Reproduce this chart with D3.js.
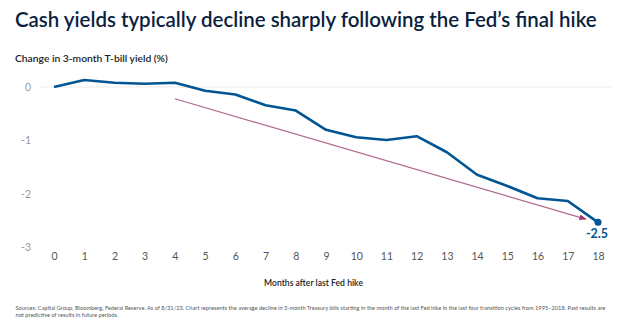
<!DOCTYPE html>
<html>
<head>
<meta charset="utf-8">
<script src="https://cdn.jsdelivr.net/npm/d3@7"></script>
<style>
  body { margin: 0; background: #fff; }
  svg { display: block; font-family: Lato, "Open Sans", sans-serif; }
</style>
</head>
<body>
<svg width="624" height="325"></svg>
<script>
const months = [0, 1, 2, 3, 4, 5, 6, 7, 8, 9, 10, 11, 12, 13, 14, 15, 16, 17, 18];
const yieldChange = [0, 0.13, 0.08, 0.06, 0.08, -0.07, -0.14, -0.34, -0.44, -0.80,
  -0.94, -0.99, -0.92, -1.22, -1.64, -1.85, -2.08, -2.13, -2.53];
const yTicks = [0, -1, -2, -3];
// trend arrow: start and end points (month, change)
const arrowFrom = [4, -0.22];
const arrowTo = [17.6, -2.47];

const svg = d3.select("svg");

const x = d3.scaleLinear().domain([0, 18]).range([54, 598]);
const y = d3.scaleLinear().domain([0, -3]).range([87, 247.5]);

// plain hyphen instead of unicode minus
const fmt = f => d => d3.format(f)(d).replace("\u2212", "-");

// scale a text's font size so it spans roughly the given width
function fit(sel, w) {
  const fs = +sel.attr("font-size");
  const len = sel.node().getComputedTextLength();
  sel.attr("font-size", fs * w / len);
}

// title
svg.append("text")
  .attr("x", 15).attr("y", 27)
  .attr("font-size", 20.5).attr("font-weight", 600)
  .attr("fill", "#0b1f3f")
  .text("Cash yields typically decline sharply following the Fed\u2019s final hike")
  .call(fit, 582);

svg.append("text")
  .attr("x", 15).attr("y", 62)
  .attr("font-size", 11).attr("font-weight", 600)
  .attr("fill", "#222")
  .text("Change in 3-month T-bill yield (%)")
  .call(fit, 153);

// zero line
svg.append("line")
  .attr("x1", 39).attr("x2", 611)
  .attr("y1", y(0)).attr("y2", y(0))
  .attr("stroke", "#ececec").attr("stroke-width", 1);

// y axis labels
svg.append("g")
  .attr("transform", "translate(31,0)")
  .call(d3.axisLeft(y).tickValues(yTicks).tickSize(0).tickPadding(0).tickFormat(fmt("d")))
  .call(g => g.select(".domain").remove())
  .call(g => g.selectAll("text")
    .attr("font-family", "Lato, sans-serif").attr("font-size", 10.5).attr("fill", "#999"));

// x axis labels
svg.append("g")
  .attr("transform", "translate(0,253)")
  .call(d3.axisBottom(x).tickValues(months).tickSize(0).tickPadding(0).tickFormat(fmt("d")))
  .call(g => g.select(".domain").remove())
  .call(g => g.selectAll("text")
    .attr("font-family", "Lato, sans-serif").attr("font-size", 10.5).attr("fill", "#555"));

svg.append("text")
  .attr("x", 313.5).attr("y", 286)
  .attr("text-anchor", "middle")
  .attr("font-size", 11).attr("font-weight", 600)
  .attr("fill", "#222")
  .text("Months after last Fed hike")
  .call(fit, 99);

// arrow
svg.append("defs").append("marker")
  .attr("id", "head")
  .attr("viewBox", "0 0 10 10")
  .attr("refX", 9).attr("refY", 5)
  .attr("markerWidth", 6).attr("markerHeight", 6)
  .attr("orient", "auto")
  .append("path")
  .attr("d", "M0,1 L10,5 L0,9 Z")
  .attr("fill", "#a3306e");

svg.append("line")
  .attr("x1", x(arrowFrom[0])).attr("y1", y(arrowFrom[1]))
  .attr("x2", x(arrowTo[0])).attr("y2", y(arrowTo[1]))
  .attr("stroke", "#b0668f").attr("stroke-width", 1.2)
  .attr("marker-end", "url(#head)");

// main line
const line = d3.line()
  .x((d, i) => x(months[i]))
  .y(d => y(d));

svg.append("path")
  .datum(yieldChange)
  .attr("d", line)
  .attr("fill", "none")
  .attr("stroke", "#005592")
  .attr("stroke-width", 2.6)
  .attr("stroke-linejoin", "round");

const last = yieldChange.length - 1;
svg.append("circle")
  .attr("cx", x(months[last])).attr("cy", y(yieldChange[last]))
  .attr("r", 3.5).attr("fill", "#005592");

svg.append("text")
  .attr("x", x(months[last]) - 1).attr("y", y(yieldChange[last]) + 16)
  .attr("text-anchor", "middle")
  .attr("font-size", 12.5).attr("font-weight", 700)
  .attr("fill", "#005592")
  .text(fmt(".1f")(yieldChange[last]));

// footnote
const foot = svg.append("text")
  .attr("font-size", 5.6).attr("fill", "#555");
const f1 = foot.append("tspan").attr("x", 15.5).attr("y", 310)
  .text("Sources: Capital Group, Bloomberg, Federal Reserve. As of 8/31/23. Chart represents the average decline in 3-month Treasury bills starting in the month of the last Fed hike in the last four transition cycles from 1995\u20132018. Past results are");
foot.append("tspan").attr("x", 15.5).attr("y", 316.5)
  .text("not predictive of results in future periods.");
foot.attr("font-size", 5.6 * 590 / f1.node().getComputedTextLength());
</script>
</body>
</html>
